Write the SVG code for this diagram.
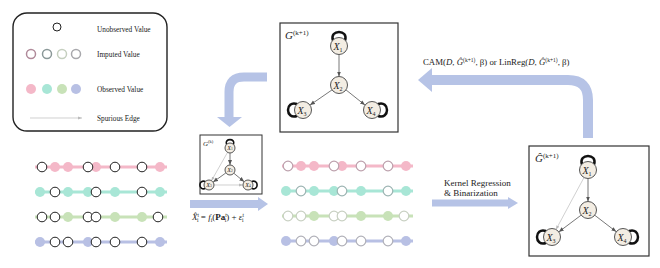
<svg xmlns="http://www.w3.org/2000/svg" width="660" height="268" viewBox="0 0 660 268">
<defs>
<style>
text{font-family:"Liberation Serif","Times New Roman",serif;fill:#222}
.lg{font-size:7.3px}
.nd{fill:#f3ede3;stroke:#555;stroke-width:1}
.nl{font-size:10px;font-style:italic;text-anchor:middle}
.nls{font-size:6px;font-style:normal}
.sn{font-size:6px}
.e{stroke:#555;stroke-width:0.8;fill:none}
.sp{stroke:#bbb;stroke-width:0.7;fill:none}
.loop{stroke:#111;stroke-width:2.5;fill:none}
.loops{stroke:#111;stroke-width:1.6;fill:none}
.u{fill:#fff;stroke:#222;stroke-width:1}
.band{fill:none;stroke:#b6c3e6}
.ah{fill:#b6c3e6}
</style>
<marker id="m" viewBox="0 0 10 10" refX="10" refY="5" markerUnits="userSpaceOnUse" markerWidth="5" markerHeight="5" orient="auto"><path d="M0,1 L10,5 L0,9 z" fill="#555"/></marker>
<marker id="ms" viewBox="0 0 10 10" refX="10" refY="5" markerUnits="userSpaceOnUse" markerWidth="4" markerHeight="4" orient="auto"><path d="M0,1 L10,5 L0,9 z" fill="#bbb"/></marker>
</defs>
<rect width="660" height="268" fill="#fff"/>

<g id="legend">
<rect x="13" y="13" width="154" height="118" rx="14" fill="#fff" stroke="#222" stroke-width="1.4"/>
<circle class="u" cx="57" cy="27" r="4"/>
<circle cx="31" cy="54" r="4.5" fill="#fff" stroke="#b08a9a" stroke-width="1.5"/>
<circle cx="47" cy="54" r="4.5" fill="#fff" stroke="#8a9898" stroke-width="1.5"/>
<circle cx="62" cy="54" r="4.5" fill="#fff" stroke="#c5cfbf" stroke-width="1.5"/>
<circle cx="76" cy="54" r="4.5" fill="#fff" stroke="#a8a8ac" stroke-width="1.5"/>
<circle cx="31" cy="89" r="5" fill="#f4b8c8"/>
<circle cx="47" cy="89" r="5" fill="#a8e6d6"/>
<circle cx="62" cy="89" r="5" fill="#c8e2b8"/>
<circle cx="76" cy="89" r="5" fill="#b8c0e4"/>
<line x1="30" y1="118" x2="82" y2="118" class="sp" marker-end="url(#ms)"/>
<text class="lg" x="97" y="32">Unobserved Value</text>
<text class="lg" x="97" y="57">Imputed Value</text>
<text class="lg" x="97" y="92">Observed Value</text>
<text class="lg" x="97" y="121">Spurious Edge</text>
</g>

<g id="connectors">
<path class="band" stroke-width="9" d="M267,77 H244 Q229,77 229,92 V117"/>
<polygon class="ah" points="217,117 242,117 229.5,127"/>
<path class="band" stroke-width="10" d="M588,138 V100 Q588,80 568,80 H431"/>
<polygon class="ah" points="418,80 432,68 432,92"/>
<path class="band" stroke-width="8" d="M190,204 H259"/>
<polygon class="ah" points="258,197 258,211 268,204"/>
<path class="band" stroke-width="7" d="M432,203 H509"/>
<polygon class="ah" points="508,197 508,209 518,203"/>
</g>

<g id="label-cam">
<text font-size="8.8" x="423" y="65">CAM(<tspan font-style="italic">D</tspan>, <tspan font-style="italic">Ĝ</tspan><tspan font-size="5.5" dy="-3">(k+1)</tspan><tspan dy="3">, β) or LinReg(</tspan><tspan font-style="italic">D</tspan>, <tspan font-style="italic">Ĝ</tspan><tspan font-size="5.5" dy="-3">(k+1)</tspan><tspan dy="3">, β)</tspan></text>
</g>
<g id="label-kernel">
<text font-size="9" x="444" y="186">Kernel Regression</text>
<text font-size="9" x="444" y="196">&amp; Binarization</text>
</g>
<g id="label-formula">
<text font-size="9" x="192" y="220"><tspan font-style="italic">X̂</tspan><tspan font-size="5.5" dy="-3">t</tspan><tspan font-size="5.5" dx="-2" dy="5">i</tspan><tspan dy="-2"> = </tspan><tspan font-style="italic">f</tspan><tspan font-size="5.5" dy="2">i</tspan><tspan dy="-2">(</tspan><tspan font-weight="bold">Pa</tspan><tspan font-size="5.5" dy="-3">t</tspan><tspan font-size="5.5" dx="-2" dy="5">i</tspan><tspan dy="-2">) + </tspan><tspan font-style="italic">ε</tspan><tspan font-size="5.5" dy="-3">t</tspan><tspan font-size="5.5" dx="-2" dy="5">i</tspan></text>
</g>

<g id="graph-top">
<rect x="280" y="23" width="118" height="109" fill="#fff" stroke="#333" stroke-width="1.2"/>
<text x="285" y="39" font-size="11" font-style="italic">G<tspan font-size="7" font-style="normal" dy="-4">(k+1)</tspan></text>
<line class="e" x1="339" y1="54.5" x2="339" y2="76.5" marker-end="url(#m)"/>
<line class="e" x1="332" y1="89.9" x2="310" y2="105.1" marker-end="url(#m)"/>
<line class="e" x1="346" y1="89.9" x2="365" y2="105.1" marker-end="url(#m)"/>
<path class="loop" d="M333,40.5 C329,29 349,29 345,40.5"/>
<path class="loop" d="M297,104 C285,100 285,120 297,116"/>
<path class="loop" d="M378,104 C390,100 390,120 378,116"/>
<g id="top-x1"><circle class="nd" cx="339" cy="46" r="8.5"/><text class="nl" x="338" y="49.5">X<tspan class="nls" dy="2">1</tspan></text></g>
<g id="top-x2"><circle class="nd" cx="339" cy="85" r="8.5"/><text class="nl" x="338" y="88.5">X<tspan class="nls" dy="2">2</tspan></text></g>
<g id="top-x3"><circle class="nd" cx="303" cy="110" r="8.5"/><text class="nl" x="302" y="113.5">X<tspan class="nls" dy="2">3</tspan></text></g>
<g id="top-x4"><circle class="nd" cx="372" cy="110" r="8.5"/><text class="nl" x="371" y="113.5">X<tspan class="nls" dy="2">4</tspan></text></g>
</g>

<g id="graph-right">
<rect x="529" y="146" width="120" height="110" fill="#fff" stroke="#333" stroke-width="1.2"/>
<text x="535" y="162" font-size="11" font-style="italic">Ĝ<tspan font-size="7" font-style="normal" dy="-4">(k+1)</tspan></text>
<line class="sp" x1="584" y1="177.5" x2="556" y2="229.5" marker-end="url(#ms)"/>
<line class="e" x1="588" y1="178.5" x2="588" y2="201.5" marker-end="url(#m)"/>
<line class="e" x1="581.2" y1="215.1" x2="558.8" y2="231.9" marker-end="url(#m)"/>
<line class="e" x1="594.7" y1="215.2" x2="616.3" y2="231.8" marker-end="url(#m)"/>
<path class="loop" d="M582,164.5 C578,153 598,153 594,164.5"/>
<path class="loop" d="M546,231 C534,227 534,247 546,243"/>
<path class="loop" d="M629,231 C641,227 641,247 629,243"/>
<g id="right-x1"><circle class="nd" cx="588" cy="170" r="8.5"/><text class="nl" x="587" y="173.5">X<tspan class="nls" dy="2">1</tspan></text></g>
<g id="right-x2"><circle class="nd" cx="588" cy="210" r="8.5"/><text class="nl" x="587" y="213.5">X<tspan class="nls" dy="2">2</tspan></text></g>
<g id="right-x3"><circle class="nd" cx="552" cy="237" r="8.5"/><text class="nl" x="551" y="240.5">X<tspan class="nls" dy="2">3</tspan></text></g>
<g id="right-x4"><circle class="nd" cx="623" cy="237" r="8.5"/><text class="nl" x="622" y="240.5">X<tspan class="nls" dy="2">4</tspan></text></g>
</g>

<g id="graph-small">
<rect x="200" y="135" width="62" height="59" fill="#fff" stroke="#333" stroke-width="1"/>
<text x="203" y="146" font-size="7" font-style="italic">G<tspan font-size="4.5" font-style="normal" dy="-3">(k)</tspan></text>
<line class="sp" x1="227.5" y1="152.4" x2="211.5" y2="180.6" marker-end="url(#ms)"/>
<line class="sp" x1="214" y1="185" x2="243" y2="185" marker-end="url(#ms)"/>
<line class="e" x1="230" y1="153" x2="230" y2="165" marker-end="url(#m)"/>
<line class="e" x1="225.9" y1="172.9" x2="213.1" y2="182.1" marker-end="url(#m)"/>
<line class="e" x1="233.8" y1="173.2" x2="244.2" y2="181.8" marker-end="url(#m)"/>
<path class="loops" d="M226.5,144.5 C224,138 236,138 233.5,144.5"/>
<path class="loops" d="M205.5,181.5 C198,179 198,191 205.5,188.5"/>
<path class="loops" d="M251.5,181.5 C259,179 259,191 251.5,188.5"/>
<g id="small-x1"><circle class="nd" cx="230" cy="148" r="5"/><text class="sn" x="230" y="150" text-anchor="middle" font-style="italic">X<tspan font-size="3.5" font-style="normal">1</tspan></text></g>
<g id="small-x2"><circle class="nd" cx="230" cy="170" r="5"/><text class="sn" x="230" y="172" text-anchor="middle" font-style="italic">X<tspan font-size="3.5" font-style="normal">2</tspan></text></g>
<g id="small-x3"><circle class="nd" cx="209" cy="185" r="5"/><text class="sn" x="209" y="187" text-anchor="middle" font-style="italic">X<tspan font-size="3.5" font-style="normal">3</tspan></text></g>
<g id="small-x4"><circle class="nd" cx="248" cy="185" r="5"/><text class="sn" x="248" y="187" text-anchor="middle" font-style="italic">X<tspan font-size="3.5" font-style="normal">4</tspan></text></g>
</g>

<g id="rows-left">
<line x1="35" y1="167" x2="167" y2="167" stroke="#f4b8c8" stroke-width="3"/>
<line x1="35" y1="192" x2="167" y2="192" stroke="#a8e6d6" stroke-width="3"/>
<line x1="35" y1="217" x2="167" y2="217" stroke="#c8e2b8" stroke-width="3"/>
<line x1="35" y1="242" x2="167" y2="242" stroke="#b8c0e4" stroke-width="3"/>
<g fill="#f4b8c8"><circle cx="55" cy="167" r="5"/><circle cx="68" cy="167" r="5"/><circle cx="96" cy="167" r="5"/><circle cx="160" cy="167" r="5"/></g>
<g class="u"><circle cx="42" cy="167" r="4.8"/><circle cx="88" cy="167" r="4.8"/><circle cx="115" cy="167" r="4.8"/><circle cx="142" cy="167" r="4.8"/></g>
<g fill="#a8e6d6"><circle cx="40" cy="192" r="5"/><circle cx="68" cy="192" r="5"/><circle cx="88" cy="192" r="5"/><circle cx="115" cy="192" r="5"/><circle cx="160" cy="192" r="5"/></g>
<g class="u"><circle cx="55" cy="192" r="4.8"/><circle cx="96" cy="192" r="4.8"/><circle cx="142" cy="192" r="4.8"/></g>
<g fill="#c8e2b8"><circle cx="68" cy="217" r="5"/><circle cx="115" cy="217" r="5"/><circle cx="142" cy="217" r="5"/></g>
<g class="u"><circle cx="42" cy="217" r="4.8"/><circle cx="55" cy="217" r="4.8"/><circle cx="88" cy="217" r="4.8"/><circle cx="96" cy="217" r="4.8"/><circle cx="158" cy="217" r="4.8"/></g>
<g fill="#b8c0e4"><circle cx="40" cy="242" r="5"/><circle cx="88" cy="242" r="5"/><circle cx="160" cy="242" r="5"/></g>
<g class="u"><circle cx="55" cy="242" r="4.8"/><circle cx="68" cy="242" r="4.8"/><circle cx="96" cy="242" r="4.8"/><circle cx="115" cy="242" r="4.8"/><circle cx="142" cy="242" r="4.8"/></g>
</g>

<g id="rows-center">
<line x1="282" y1="166" x2="413" y2="166" stroke="#f4b8c8" stroke-width="3"/>
<line x1="282" y1="191" x2="413" y2="191" stroke="#a8e6d6" stroke-width="3"/>
<line x1="282" y1="216" x2="413" y2="216" stroke="#c8e2b8" stroke-width="3"/>
<line x1="282" y1="241" x2="413" y2="241" stroke="#b8c0e4" stroke-width="3"/>
<g fill="#f4b8c8"><circle cx="301" cy="166" r="5"/><circle cx="314" cy="166" r="5"/><circle cx="342" cy="166" r="5"/><circle cx="406" cy="166" r="5"/></g>
<g fill="#fff" stroke="#bca0ac" stroke-width="1.2"><circle cx="288" cy="166" r="4.8"/><circle cx="334" cy="166" r="4.8"/><circle cx="361" cy="166" r="4.8"/><circle cx="388" cy="166" r="4.8"/></g>
<g fill="#a8e6d6"><circle cx="286" cy="191" r="5"/><circle cx="314" cy="191" r="5"/><circle cx="334" cy="191" r="5"/><circle cx="361" cy="191" r="5"/><circle cx="406" cy="191" r="5"/></g>
<g fill="#fff" stroke="#9cb4b2" stroke-width="1.2"><circle cx="301" cy="191" r="4.8"/><circle cx="342" cy="191" r="4.8"/><circle cx="388" cy="191" r="4.8"/></g>
<g fill="#c8e2b8"><circle cx="314" cy="216" r="5"/><circle cx="361" cy="216" r="5"/><circle cx="388" cy="216" r="5"/></g>
<g fill="#fff" stroke="#c8d0c2" stroke-width="1.2"><circle cx="288" cy="216" r="4.8"/><circle cx="301" cy="216" r="4.8"/><circle cx="334" cy="216" r="4.8"/><circle cx="342" cy="216" r="4.8"/><circle cx="404" cy="216" r="4.8"/></g>
<g fill="#b8c0e4"><circle cx="286" cy="241" r="5"/><circle cx="334" cy="241" r="5"/><circle cx="406" cy="241" r="5"/></g>
<g fill="#fff" stroke="#b0b0b8" stroke-width="1.2"><circle cx="301" cy="241" r="4.8"/><circle cx="314" cy="241" r="4.8"/><circle cx="342" cy="241" r="4.8"/><circle cx="361" cy="241" r="4.8"/><circle cx="388" cy="241" r="4.8"/></g>
</g>
</svg>
